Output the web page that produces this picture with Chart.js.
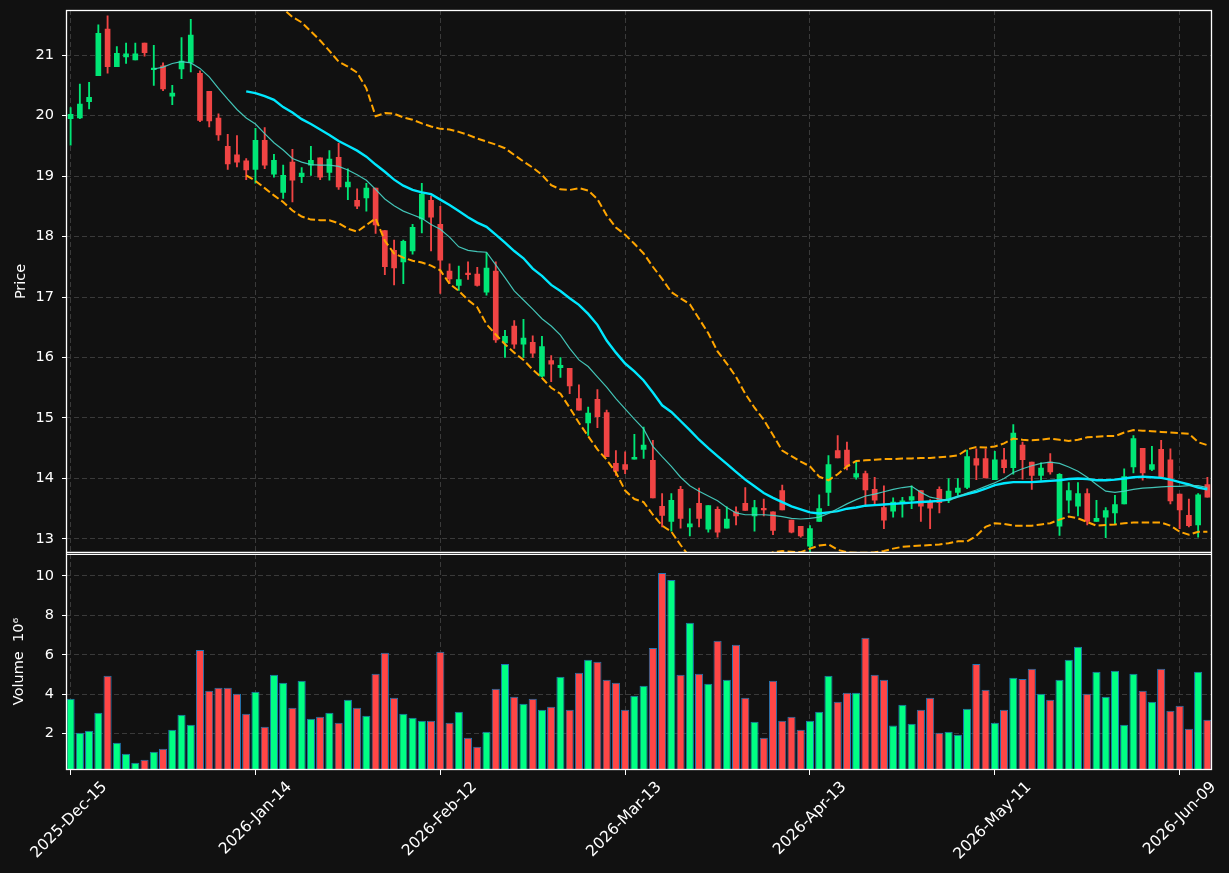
<!DOCTYPE html>
<html><head><meta charset="utf-8">
<script src="https://cdn.jsdelivr.net/npm/chart.js@4/dist/chart.umd.min.js"></script>
<style>html,body{margin:0;padding:0;background:#111111;}#wrap{width:1229px;height:873px;}</style>
</head><body><div id="wrap"><canvas id="c" width="1229" height="873"></canvas></div>
<script>
// ---- data ----
const tickLabels = ['2025-Dec-15','2026-Jan-14','2026-Feb-12','2026-Mar-13','2026-Apr-13','2026-May-11','2026-Jun-09'];
const tickEvery = 20;

const opens = [19.95,19.96,20.23,20.66,21.43,20.81,20.97,20.92,21.20,20.76,20.82,20.32,20.77,20.88,20.70,20.40,19.96,19.49,19.35,19.25,
19.11,19.59,19.03,18.73,19.23,18.99,19.18,19.30,19.06,19.31,18.82,18.60,18.64,18.80,18.10,17.77,17.58,17.76,18.29,18.60,
18.20,17.43,17.19,17.39,17.38,17.08,17.43,16.24,16.52,16.22,16.25,15.69,15.95,15.83,15.82,15.32,14.92,15.31,15.09,14.25,
14.23,14.32,14.48,14.30,13.54,13.29,13.82,13.20,13.59,13.16,13.49,13.18,13.45,13.59,13.38,13.50,13.45,13.80,13.31,13.21,
12.88,13.29,13.77,14.46,14.47,14.02,14.08,13.82,13.52,13.46,13.59,13.64,13.80,13.61,13.82,13.64,13.77,13.85,14.33,14.33,
13.98,14.31,14.18,14.55,14.27,14.05,14.27,13.21,13.64,13.54,13.75,13.29,13.36,13.43,13.58,14.19,14.50,14.15,14.48,14.31,
13.74,13.39,13.23,13.90];
const highs = [20.13,20.52,20.55,21.50,21.65,21.14,21.20,21.20,21.20,21.16,20.87,20.50,21.29,21.59,20.74,20.40,20.03,19.69,19.67,19.29,
19.79,19.80,19.36,19.18,19.44,19.14,19.49,19.30,19.42,19.54,19.12,18.79,18.88,18.80,18.10,17.94,17.94,18.20,18.88,18.67,
18.50,17.55,17.51,17.58,17.49,17.73,17.58,16.45,16.61,16.63,16.36,16.35,16.03,16.00,15.82,15.55,15.18,15.47,15.13,14.46,
14.44,14.73,14.85,14.63,13.75,13.75,13.87,13.50,13.84,13.55,13.53,13.53,13.53,13.85,13.64,13.66,13.45,13.89,13.31,13.21,
13.22,13.73,14.38,14.71,14.60,14.28,14.12,14.02,13.88,13.68,13.69,13.88,13.80,13.65,13.86,14.00,14.00,14.47,14.49,14.49,
14.45,14.50,14.89,14.60,14.27,14.26,14.41,14.08,13.93,13.93,13.83,13.64,13.52,13.72,14.16,14.71,14.50,14.53,14.63,14.49,
13.74,13.66,13.75,14.02];
const lows = [19.51,19.95,20.11,20.66,20.70,20.81,20.86,20.92,20.98,20.50,20.41,20.18,20.61,20.72,19.90,19.81,19.59,19.11,19.15,18.94,
18.88,19.12,18.98,18.63,18.57,18.89,19.01,18.94,18.93,18.78,18.61,18.46,18.42,18.05,17.37,17.20,17.22,17.71,18.06,17.76,
17.06,17.22,17.11,17.29,17.18,17.03,16.25,16.00,16.15,16.00,16.00,15.68,15.60,15.67,15.40,15.13,14.71,14.84,14.36,14.05,
14.08,14.32,14.33,13.68,13.20,13.13,13.18,13.05,13.20,13.11,13.03,13.18,13.23,13.47,13.13,13.38,13.07,13.48,13.10,13.03,
12.75,13.29,13.55,14.34,14.14,13.99,13.55,13.55,13.17,13.36,13.36,13.50,13.29,13.17,13.43,13.60,13.72,13.83,13.98,14.01,
13.98,14.09,14.07,13.99,13.82,13.97,14.07,13.06,13.43,13.38,13.23,13.29,13.02,13.25,13.58,14.09,13.97,14.13,14.03,13.58,
13.17,13.20,13.03,13.69];
const closes = [20.02,20.19,20.30,21.36,20.81,21.03,21.02,21.02,21.04,20.78,20.44,20.37,20.90,21.33,19.92,19.91,19.68,19.20,19.23,19.10,
19.59,19.18,19.26,19.01,18.93,19.05,19.26,18.98,19.28,18.82,18.90,18.50,18.80,18.19,17.50,17.48,17.92,18.15,18.70,18.32,
17.61,17.30,17.29,17.37,17.19,17.48,16.29,16.35,16.22,16.32,16.07,16.18,15.89,15.87,15.53,15.13,15.08,15.02,14.36,14.12,
14.15,14.35,14.55,13.68,13.39,13.64,13.34,13.25,13.34,13.55,13.11,13.33,13.38,13.47,13.52,13.48,13.14,13.48,13.11,13.05,
13.17,13.50,14.23,14.34,14.20,14.08,13.81,13.64,13.31,13.61,13.63,13.70,13.54,13.51,13.60,13.79,13.84,14.36,14.22,14.01,
14.31,14.18,14.75,14.31,14.05,14.17,14.11,14.07,13.80,13.75,13.29,13.34,13.47,13.57,14.03,14.66,14.09,14.23,14.03,13.63,
13.48,13.22,13.73,13.69];
// volume in millions (axis scaled by 10^6)
const volumeM = [3.77,2.05,2.15,3.06,4.94,1.54,0.99,0.53,0.68,1.09,1.24,2.20,2.96,2.46,6.25,4.18,4.33,4.33,4.03,3.01,
4.13,2.35,4.99,4.58,3.32,4.68,2.76,2.86,3.06,2.56,3.72,3.32,2.91,5.04,6.10,3.82,3.01,2.81,2.66,2.66,
6.15,2.56,3.11,1.80,1.34,2.10,4.28,5.54,3.87,3.52,3.77,3.22,3.37,4.89,3.22,5.09,5.75,5.65,4.73,4.58,
3.22,3.92,4.43,6.35,10.15,9.80,4.99,7.62,5.04,4.53,6.71,4.73,6.51,3.82,2.61,1.80,4.68,2.66,2.86,2.20,
2.66,3.11,4.94,3.62,4.08,4.08,6.86,4.99,4.73,2.41,3.47,2.51,3.22,3.82,2.05,2.10,1.95,3.27,5.54,4.23,
2.56,3.22,4.84,4.78,5.29,4.03,3.72,4.73,5.75,6.41,4.03,5.14,3.87,5.19,2.46,5.04,4.18,3.62,5.29,3.16,
3.42,2.25,5.14,2.71];

// moving averages / bands as drawn (first value sits at the given start index)
const ma10Start = 9;
const ma10 = [20.77,20.80,20.86,20.89,20.87,20.78,20.64,20.45,20.27,20.10,19.96,19.86,19.70,19.55,19.43,19.29,19.23,19.19,19.18,19.18,
19.16,19.10,19.02,18.93,18.78,18.62,18.51,18.42,18.36,18.30,18.20,18.12,17.99,17.83,17.77,17.75,17.74,17.53,17.32,17.10,
16.95,16.80,16.64,16.52,16.37,16.15,15.96,15.85,15.68,15.51,15.32,15.15,14.98,14.82,14.53,14.36,14.20,14.02,13.88,13.79,
13.71,13.63,13.52,13.43,13.40,13.40,13.40,13.39,13.37,13.34,13.33,13.34,13.36,13.42,13.50,13.58,13.65,13.71,13.74,13.78,
13.82,13.85,13.87,13.77,13.69,13.66,13.64,13.70,13.76,13.81,13.87,13.93,14.00,14.10,14.16,14.21,14.25,14.27,14.25,14.19,
14.12,14.02,13.90,13.79,13.77,13.79,13.82,13.84,13.85,13.86,13.87,13.87,13.88,13.88,13.85];
const ma20Start = 19;
const ma20 = [20.40,20.37,20.32,20.26,20.14,20.05,19.94,19.86,19.77,19.68,19.58,19.50,19.42,19.32,19.19,19.07,18.94,18.84,18.77,18.73,
18.70,18.61,18.52,18.42,18.32,18.23,18.16,18.03,17.90,17.76,17.64,17.47,17.35,17.20,17.10,16.98,16.87,16.72,16.54,16.28,
16.08,15.90,15.77,15.62,15.42,15.21,15.10,14.95,14.80,14.64,14.50,14.37,14.24,14.11,13.98,13.87,13.76,13.68,13.61,13.54,
13.49,13.44,13.42,13.44,13.46,13.50,13.52,13.55,13.56,13.57,13.58,13.59,13.60,13.61,13.62,13.63,13.65,13.70,13.74,13.78,
13.83,13.89,13.92,13.94,13.94,13.94,13.95,13.96,13.97,13.99,14.00,13.99,13.97,13.97,13.98,14.00,14.02,14.03,14.02,14.01,
13.98,13.94,13.90,13.85,13.82];
const bandStart = 19;
const bbUpper = [21.79,21.85,21.86,21.84,21.76,21.63,21.54,21.39,21.24,21.07,20.89,20.81,20.71,20.45,19.99,20.04,20.03,19.97,19.93,19.87,
19.82,19.78,19.77,19.73,19.68,19.62,19.57,19.52,19.46,19.35,19.24,19.14,19.02,18.85,18.78,18.77,18.80,18.76,18.62,18.35,
18.15,18.03,17.88,17.72,17.50,17.30,17.08,16.98,16.88,16.64,16.40,16.10,15.90,15.68,15.40,15.17,14.97,14.72,14.46,14.37,
14.28,14.20,14.03,13.97,14.07,14.20,14.29,14.30,14.31,14.32,14.32,14.33,14.33,14.34,14.34,14.35,14.36,14.38,14.48,14.52,
14.51,14.53,14.58,14.66,14.64,14.63,14.64,14.66,14.64,14.62,14.64,14.68,14.69,14.70,14.70,14.76,14.80,14.79,14.78,14.77,
14.76,14.75,14.74,14.60,14.55];
const bbLower = [19.01,18.92,18.80,18.68,18.57,18.43,18.33,18.28,18.27,18.27,18.22,18.13,18.08,18.19,18.30,17.93,17.72,17.65,17.60,17.57,
17.52,17.44,17.22,17.10,16.95,16.83,16.55,16.38,16.22,16.08,15.96,15.80,15.66,15.50,15.40,15.17,14.92,14.70,14.48,14.31,
14.10,13.80,13.66,13.61,13.40,13.22,13.12,12.90,12.70,12.55,12.45,12.40,12.40,12.45,12.55,12.62,12.70,12.78,12.80,12.79,
12.78,12.84,12.89,12.91,12.82,12.78,12.77,12.77,12.78,12.80,12.84,12.87,12.88,12.89,12.90,12.91,12.93,12.96,12.96,13.05,
13.20,13.26,13.25,13.22,13.22,13.22,13.24,13.26,13.32,13.37,13.34,13.28,13.22,13.23,13.24,13.26,13.27,13.27,13.27,13.27,
13.22,13.12,13.07,13.12,13.12];

// ---- styling ----
const BG = '#111111', GRID = '#3a3a3a', FG = '#ffffff';
const UP = '#00e676', DOWN = '#f04444', VUP = '#00ff84', VDOWN = '#ff4646', VEDGE = '#1f77b4';
const FONT = 'DejaVu Sans';
Chart.defaults.font.family = FONT;
Chart.defaults.font.size = 14.5;
Chart.defaults.color = FG;

const categories = opens.map((_, i) => i);
const isUp = i => closes[i] >= opens[i];
const pad = (start, arr) => new Array(start).fill(null).concat(arr);

const framePlugin = {
  id: 'frame',
  beforeDraw(chart) {
    const {ctx} = chart;
    ctx.save(); ctx.fillStyle = BG; ctx.fillRect(0, 0, chart.width, chart.height); ctx.restore();
  },
  afterDraw(chart) {
    const {ctx, chartArea: a} = chart;
    const yp = chart.scales.y;
    ctx.save();
    ctx.strokeStyle = FG; ctx.lineWidth = 1.3;
    ctx.strokeRect(a.left + 0.5, a.top + 0.5, a.right - a.left - 1, a.bottom - a.top - 1);
    ctx.beginPath();
    ctx.moveTo(a.left, yp.bottom - 0.5); ctx.lineTo(a.right, yp.bottom - 0.5);
    ctx.moveTo(a.left, yp.bottom + 1.5); ctx.lineTo(a.right, yp.bottom + 1.5);
    ctx.stroke();
    ctx.restore();
  }
};

const lineDs = (label, start, arr, color, width, dash, order) => ({
  type: 'line', label, data: pad(start, arr), yAxisID: 'y',
  borderColor: color, borderWidth: width, borderDash: dash, pointRadius: 0,
  tension: 0, spanGaps: false, fill: false, order, clip: 0
});

const fitY = s => { s.width = 66; s.paddingTop = 0; s.paddingBottom = 0; };

new Chart(document.getElementById('c'), {
  type: 'bar',
  data: {
    labels: categories,
    datasets: [
      lineDs('MA10', ma10Start, ma10, 'rgba(72,214,200,0.9)', 1.2, [], 0),
      lineDs('MA20', ma20Start, ma20, '#00e8ff', 2.4, [], 0),
      lineDs('BB upper', bandStart, bbUpper, '#ffa500', 2, [7.5, 3.3], 0),
      lineDs('BB lower', bandStart, bbLower, '#ffa500', 2, [7.5, 3.3], 0),
      {
        label: 'body', yAxisID: 'y', order: 2, grouped: false,
        data: opens.map((o, i) => [o, closes[i]]),
        backgroundColor: opens.map((_, i) => isUp(i) ? UP : DOWN),
        barThickness: 5, minBarLength: 1.5, borderWidth: 0, clip: 0
      },
      {
        label: 'wick', yAxisID: 'y', order: 3, grouped: false,
        data: lows.map((l, i) => [l, highs[i]]),
        backgroundColor: opens.map((_, i) => isUp(i) ? UP : DOWN),
        barThickness: 1.2, borderWidth: 0, clip: 0
      },
      {
        label: 'Volume', yAxisID: 'yv', order: 4, grouped: false,
        data: volumeM,
        backgroundColor: opens.map((_, i) => isUp(i) ? VUP : VDOWN),
        borderColor: VEDGE, borderWidth: 1, borderSkipped: 'start',
        barPercentage: 0.88, categoryPercentage: 1.0, clip: 0
      }
    ]
  },
  options: {
    responsive: false, animation: false, devicePixelRatio: 1,
    layout: {padding: {top: 10, right: 17, left: 0, bottom: 0}},
    plugins: {legend: {display: false}, tooltip: {enabled: false}},
    scales: {
      x: {
        type: 'category', offset: true,
        grid: {
          offset: false, lineWidth: 1, tickLength: 5, tickWidth: 1,
          color: c => (c.index % tickEvery === 0 ? GRID : 'rgba(0,0,0,0)'),
          tickColor: c => (c.index % tickEvery === 0 ? FG : 'rgba(0,0,0,0)')
        },
        border: {display: false, dash: [5, 3]},
        ticks: {
          autoSkip: false, minRotation: 45, maxRotation: 45, padding: 3, labelOffset: 34,
          color: FG, font: {size: 15.5},
          callback: (v, i) => (i % tickEvery === 0 ? tickLabels[i / tickEvery] : '')
        },
        afterFit: s => { s.height = 103; s.paddingLeft = 0; s.paddingRight = 0; }
      },
      yv: {
        type: 'linear', position: 'left', stack: 'panels', stackWeight: 1,
        min: 0.16, max: 11.17,
        grid: {color: GRID, tickColor: FG, tickLength: 4, lineWidth: 1},
        border: {display: false, dash: [5, 3]},
        ticks: {stepSize: 2, includeBounds: false, color: FG, padding: 8, font: {size: 14.5}},
        title: {display: true, text: 'Volume  10\u2076', color: FG, font: {size: 14.5}, padding: {top: 11, bottom: 0}},
        afterFit: fitY
      },
      y: {
        type: 'linear', position: 'left', stack: 'panels', stackWeight: 2.5,
        min: 12.77, max: 21.745,
        grid: {color: GRID, tickColor: FG, tickLength: 4, lineWidth: 1},
        border: {display: false, dash: [5, 3]},
        ticks: {stepSize: 1, includeBounds: false, color: FG, padding: 8, font: {size: 14.5}},
        title: {display: true, text: 'Price', color: FG, font: {size: 14.5}, padding: {top: 13, bottom: 0}},
        afterFit: fitY
      }
    }
  },
  plugins: [framePlugin]
});
</script></body></html>
